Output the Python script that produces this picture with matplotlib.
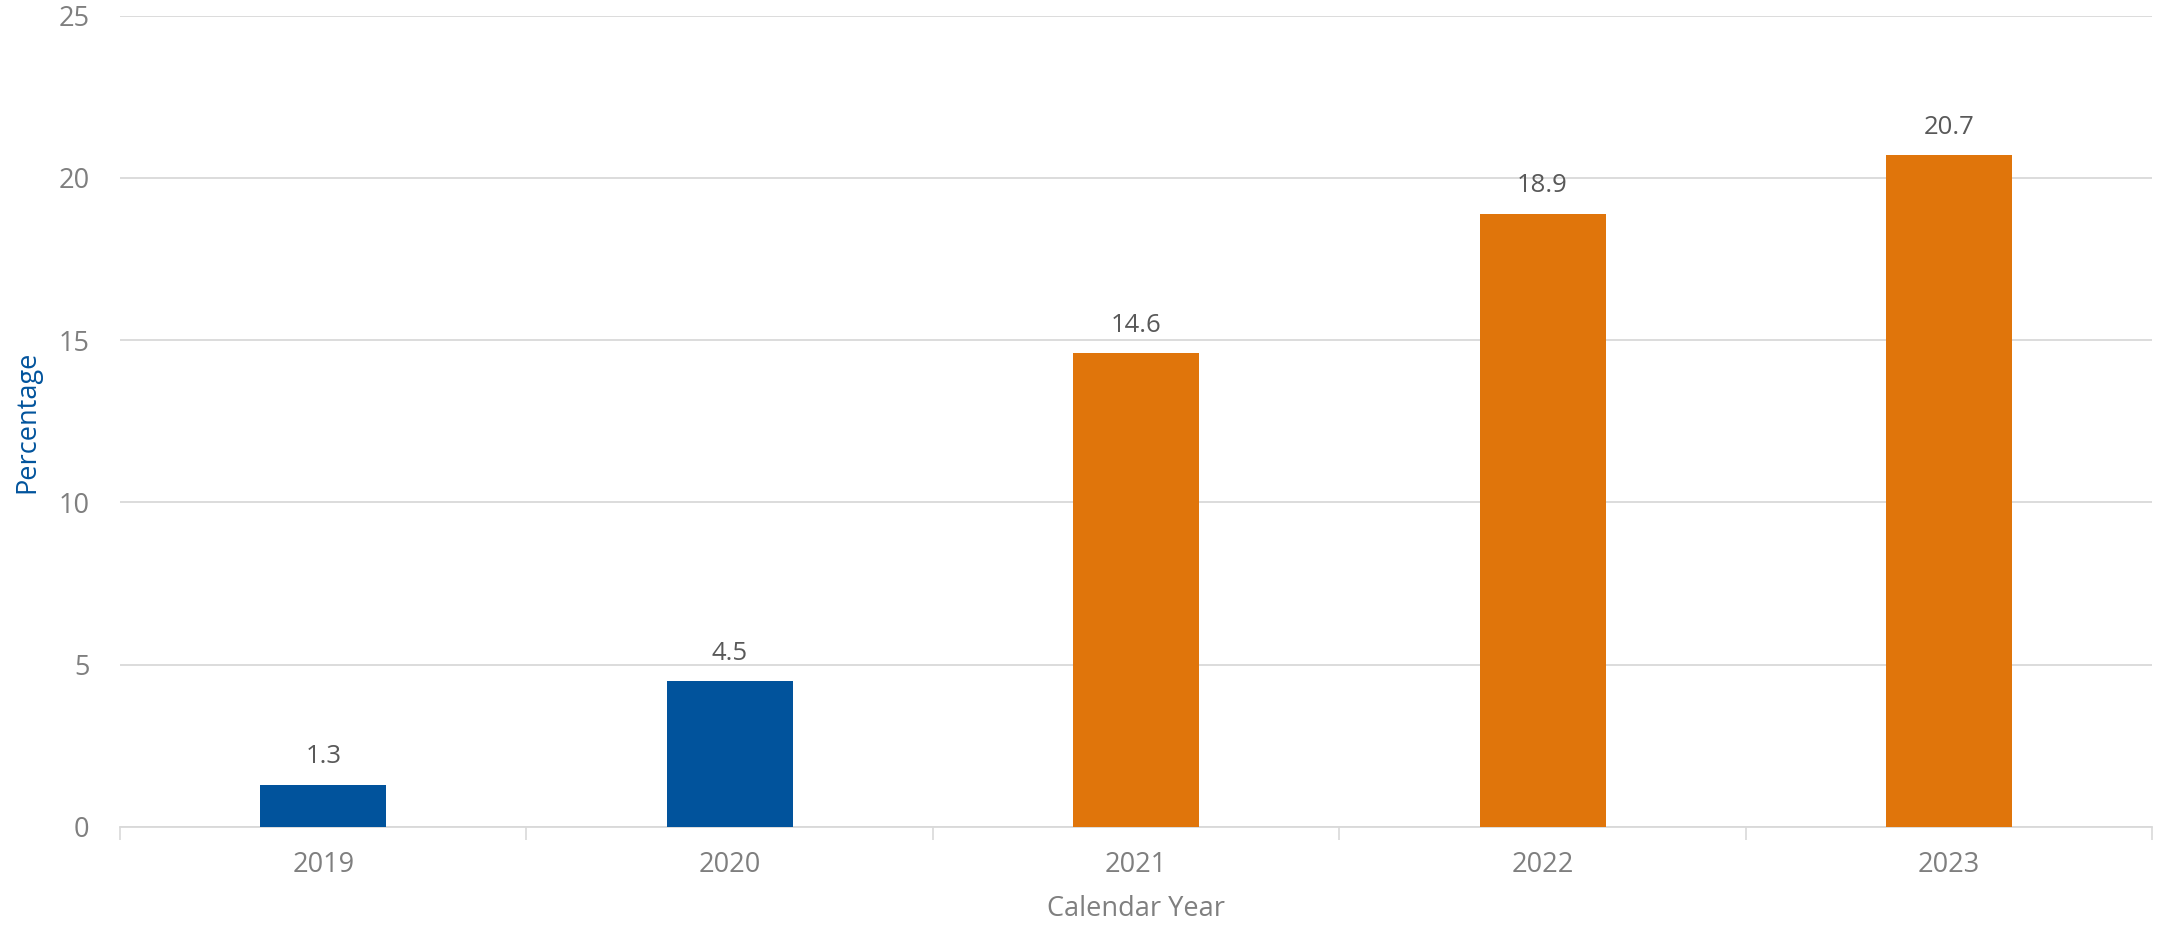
import matplotlib
matplotlib.use("Agg")
import matplotlib.pyplot as plt
from matplotlib.ticker import FixedLocator, NullFormatter

years = ["2019", "2020", "2021", "2022", "2023"]
values = [1.3, 4.5, 14.6, 18.9, 20.7]
bar_colors = ["#01539C", "#01539C", "#E0750B", "#E0750B", "#E0750B"]
y_ticks = [0, 5, 10, 15, 20, 25]

plt.rcParams["font.family"] = ["Open Sans", "DejaVu Sans"]
GREY = "#7f7f7f"

fig = plt.figure(figsize=(21.63, 9.34), dpi=100)
ax = fig.add_axes([0.0555, 0.1146, 0.9395, 0.8686])

x = list(range(len(years)))
ax.bar(x, values, width=0.31, color=bar_colors, zorder=3)
for xi, v in zip(x, values):
    ax.annotate(f"{v}", (xi, v), textcoords="offset points", xytext=(0, 11),
                ha="center", va="bottom", fontsize=18.5, color="#595959")

ax.set_xlim(-0.5, len(years) - 0.5)
ax.set_ylim(0, 25)
ax.set_yticks(y_ticks)
ax.set_xticks(x)
ax.set_xticklabels(years)
ax.xaxis.set_minor_locator(FixedLocator([i - 0.5 for i in range(len(years) + 1)]))
ax.xaxis.set_minor_formatter(NullFormatter())
ax.tick_params(axis="x", which="major", length=0, pad=17, labelsize=19.5, labelcolor=GREY)
ax.tick_params(axis="x", which="minor", length=9, width=1.2, color="#d9d9d9")
ax.tick_params(axis="y", length=0, pad=22, labelsize=19.5, labelcolor=GREY)

ax.grid(axis="y", color="#d9d9d9", lw=1.3, zorder=0)
for s in ["top", "right", "left"]:
    ax.spines[s].set_visible(False)
ax.spines["bottom"].set_color("#d9d9d9")
ax.spines["bottom"].set_linewidth(1.3)

ax.set_xlabel("Calendar Year", fontsize=19.5, color=GREY, labelpad=12)
ax.set_ylabel("Percentage", fontsize=19.5, color="#01539C", labelpad=12)

fig.savefig("out.png", dpi=100)
